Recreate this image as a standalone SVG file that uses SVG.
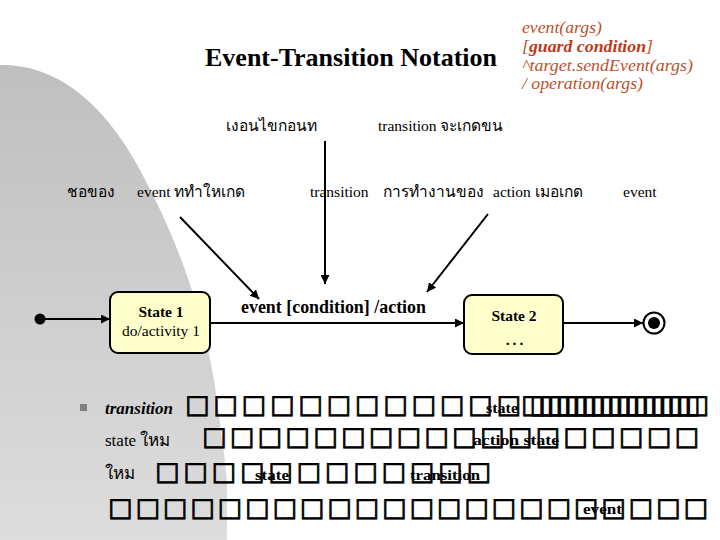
<svg xmlns="http://www.w3.org/2000/svg" width="720" height="540" viewBox="0 0 720 540">
<defs>
<linearGradient id="bg" x1="0" y1="65" x2="0" y2="540" gradientUnits="userSpaceOnUse">
<stop offset="0" stop-color="#bfbfbf"/>
<stop offset="1" stop-color="#dddddd"/>
</linearGradient>
<marker id="arr" viewBox="0 0 10 10" refX="10" refY="5" markerWidth="9" markerHeight="9" markerUnits="userSpaceOnUse" orient="auto">
<path d="M0,0 L10,5 L0,10 z" fill="#000"/>
</marker>
<style>
.th{font-family:"Liberation Serif","Noto Sans",serif;font-size:15.5px;fill:#000}
.red{font-family:"Liberation Serif",serif;font-style:italic;font-size:16px;fill:#c0502a}
.st{fill:#ffffcc;stroke:#000;stroke-width:2}
.lbl{font-family:"Liberation Serif",serif;font-size:15.5px;fill:#000;text-anchor:middle}
.c{stroke:#000;stroke-width:2;fill:none}
.tofu{font-family:"DejaVu Sans",sans-serif;font-size:26px;fill:#000;stroke:#000;stroke-width:0.8}
.sm{font-family:"Liberation Serif",serif;font-weight:bold;font-size:14px;fill:#000}
.body{font-family:"Liberation Serif","Noto Sans",serif;font-size:17px;fill:#000}
</style>
</defs>
<rect width="720" height="540" fill="#fff"/>
<path d="M0,65 C50,64 100,95 140,170 C175,235 200,300 214,380 C220,420 225,460 227,480 L227,540 L0,540 Z" fill="url(#bg)"/>

<g id="title">
<text x="205" y="66" font-family="Liberation Serif" font-weight="bold" font-size="26" fill="#000">Event-Transition Notation</text>
</g>
<g id="syntax">
<text class="red" x="522" y="33" textLength="80" lengthAdjust="spacingAndGlyphs">event(args)</text>
<text class="red" x="522" y="52" textLength="131" lengthAdjust="spacingAndGlyphs">[<tspan font-weight="bold" fill="#c03818">guard condition</tspan>]</text>
<text class="red" x="522" y="71" textLength="171" lengthAdjust="spacingAndGlyphs">^target.sendEvent(args)</text>
<text class="red" x="522" y="89" textLength="121" lengthAdjust="spacingAndGlyphs">/ operation(args)</text>
</g>

<g id="annotations">
<text class="th" x="226" y="131">เงอนไขกอนท</text>
<text class="th" x="378" y="131">transition จะเกดขน</text>
<text class="th" x="67" y="197">ชอของ</text>
<text class="th" x="137" y="197">event ททำใหเกด</text>
<text class="th" x="310" y="197">transition</text>
<text class="th" x="383" y="197">การทำงานของ</text>
<text class="th" x="493" y="197">action เมอเกด</text>
<text class="th" x="623" y="197">event</text>
</g>

<g id="initial">
<circle cx="40" cy="319" r="5.5" fill="#000"/>
</g>
<g id="state1">
<rect class="st" x="110" y="292" width="100" height="61" rx="8"/>
<text class="lbl" x="161" y="317" font-weight="bold">State 1</text>
<text class="lbl" x="161" y="336">do/activity 1</text>
</g>
<g id="state2">
<rect class="st" x="464" y="295" width="99" height="59" rx="8"/>
<text class="lbl" x="514" y="321" font-weight="bold">State 2</text>
<text class="lbl" x="516" y="345" font-weight="bold" font-size="18" letter-spacing="3">...</text>
</g>
<g id="final">
<circle cx="654" cy="323" r="10.5" fill="#fff" stroke="#000" stroke-width="2"/>
<circle cx="654" cy="323" r="6" fill="#000"/>
</g>

<g id="connectors">
<line class="c" x1="45" y1="319" x2="110" y2="319" marker-end="url(#arr)"/>
<line class="c" x1="210" y1="323" x2="464" y2="323" marker-end="url(#arr)"/>
<line class="c" x1="563" y1="323" x2="643" y2="323" marker-end="url(#arr)"/>
<line class="c" x1="180" y1="217" x2="259" y2="299" marker-end="url(#arr)"/>
<line class="c" x1="325" y1="141" x2="325" y2="284" marker-end="url(#arr)"/>
<line class="c" x1="488" y1="214" x2="427" y2="292" marker-end="url(#arr)"/>
<text x="241" y="313" font-family="Liberation Serif" font-weight="bold" font-size="18" fill="#000" textLength="185" lengthAdjust="spacingAndGlyphs">event [condition] /action</text>
</g>

<g id="bullets">
<rect x="80" y="404" width="7" height="7" fill="#808080"/>
<text class="body" x="105" y="414" font-style="italic" font-weight="bold" font-size="18">transition</text>
<text class="tofu" x="185" y="413" textLength="336" lengthAdjust="spacing">□□□□□□□□□□□□</text>
<text class="tofu" x="521" y="413" textLength="188" lengthAdjust="spacing">□□□□□□□□□□□□□□□□□□□□</text>
<text class="sm" x="486" y="413" textLength="32" lengthAdjust="spacingAndGlyphs">state</text>
<text class="body" x="105" y="446">state ใหม</text>
<text class="tofu" x="202" y="445" textLength="497" lengthAdjust="spacing">□□□□□□□□□□□□□□□□□□</text>
<text class="sm" x="473" y="445" textLength="86" lengthAdjust="spacingAndGlyphs">action  state</text>
<text class="body" x="105" y="479">ใหม</text>
<text class="tofu" x="155" y="480" textLength="336" lengthAdjust="spacing">□□□□□□□□□□□□</text>
<text class="sm" x="255" y="480" textLength="34" lengthAdjust="spacingAndGlyphs">state</text>
<text class="sm" x="410" y="480" textLength="70" lengthAdjust="spacingAndGlyphs">transition</text>
<text class="tofu" x="108" y="516" textLength="600" lengthAdjust="spacing">□□□□□□□□□□□□□□□□□□□□□□</text>
<text class="sm" x="583" y="514" textLength="39" lengthAdjust="spacingAndGlyphs">event</text>
</g>
</svg>
